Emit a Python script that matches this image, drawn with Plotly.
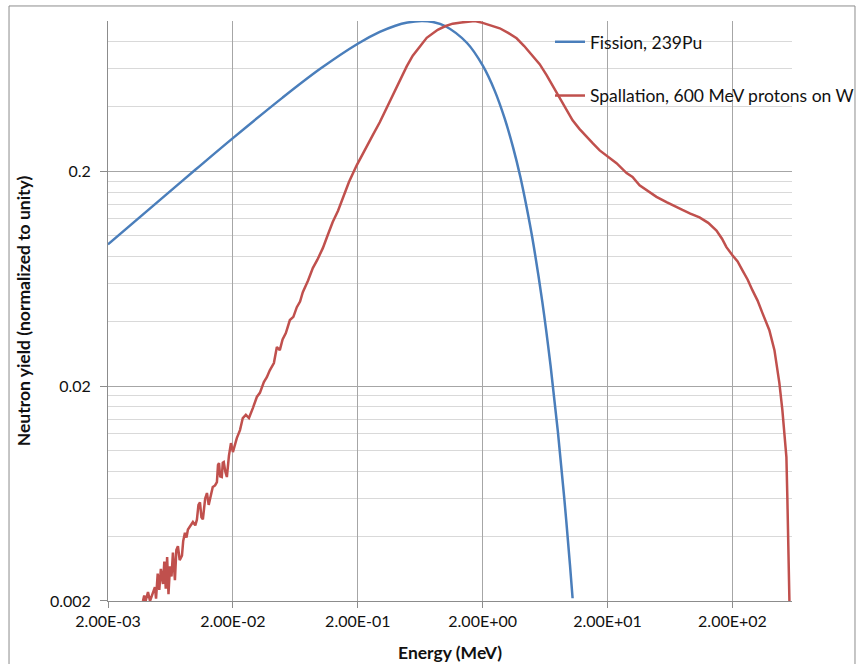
import plotly.graph_objects as go

# Fission spectrum, 239Pu (energy in MeV, yield normalized to peak)
fission_energy = [0.002, 0.005, 0.01, 0.02, 0.05, 0.1, 0.2, 0.3, 0.4, 0.5, 0.65, 0.8, 1.0,
                  1.5, 2.0, 2.5, 3.0, 3.5, 4.0, 4.5, 5.0, 6.0, 7.0, 8.0, 9.0, 10.0, 10.5]
fission_yield = [0.0913, 0.144, 0.203, 0.285, 0.440, 0.599, 0.784, 0.889, 0.951, 0.984, 1.0, 0.989, 0.948,
                 0.790, 0.621, 0.473, 0.352, 0.259, 0.189, 0.136, 0.0977, 0.0496, 0.0248, 0.0123,
                 0.00604, 0.00295, 0.00206]

# Spallation spectrum, 600 MeV protons on W
spall_energy = [0.00381, 0.00390, 0.00400, 0.00418, 0.00434, 0.00455, 0.00475, 0.00485, 0.00500, 0.00515,
                0.00530, 0.00551, 0.00565, 0.00580, 0.00595, 0.00610, 0.00627, 0.00645, 0.00662, 0.00687,
                0.00705, 0.00726, 0.00750, 0.00782, 0.00800, 0.00826, 0.00850, 0.00873, 0.00906, 0.00957,
                0.0100, 0.0103, 0.0106, 0.0109, 0.0112, 0.0115, 0.0120, 0.0124, 0.0128, 0.0131,
                0.0138, 0.0144, 0.0149, 0.0152, 0.0155, 0.0158, 0.0163, 0.0166, 0.0169, 0.0174,
                0.0179, 0.0186, 0.0193, 0.0200, 0.0208, 0.0215, 0.0228, 0.0240, 0.0254, 0.0269,
                0.0289, 0.0311, 0.0329, 0.0354, 0.0374, 0.0395, 0.0426, 0.0450, 0.0475, 0.0500,
                0.0531, 0.0572, 0.0610, 0.0650, 0.0690, 0.0726, 0.0800, 0.0873, 0.0950, 0.105,
                0.115, 0.126, 0.139, 0.152, 0.170, 0.196, 0.215, 0.236, 0.265, 0.300,
                0.340, 0.381, 0.434, 0.493, 0.551, 0.593, 0.650, 0.713, 0.790, 0.873,
                1.00, 1.15, 1.35, 1.57, 1.73, 2.00, 2.35, 2.74, 3.20, 3.74,
                4.30, 5.02, 5.72, 6.50, 7.20, 7.82, 8.60, 9.40, 10.5, 11.9,
                13.5, 15.2, 17.3, 20.0, 23.6, 28.4, 31.7, 36.1, 43.4, 49.3,
                59.3, 69.0, 79.6, 92.0, 109, 128, 149, 165, 179, 200,
                220, 240, 265, 289, 318, 348, 375, 395, 434, 455,
                475, 502, 521, 541, 551, 561, 572]
spall_yield = [0.00200, 0.00212, 0.00200, 0.00220, 0.00200, 0.00215, 0.00232, 0.00205, 0.00268, 0.00225,
               0.00282, 0.00240, 0.00305, 0.00228, 0.00320, 0.00215, 0.00290, 0.00260, 0.00336, 0.00250,
               0.00345, 0.00360, 0.00310, 0.00325, 0.00380, 0.00415, 0.00395, 0.00430, 0.00442, 0.00466,
               0.00450, 0.00478, 0.00560, 0.00575, 0.00490, 0.00480, 0.00600, 0.00636, 0.00560, 0.00595,
               0.00678, 0.00690, 0.00715, 0.00860, 0.00877, 0.00760, 0.00755, 0.00880, 0.00886, 0.00800,
               0.00755, 0.00950, 0.01086, 0.00986, 0.01090, 0.01145, 0.01248, 0.0142, 0.0147, 0.0142,
               0.0158, 0.0178, 0.0186, 0.0209, 0.0220, 0.0237, 0.0256, 0.0304, 0.0294, 0.0330,
               0.0353, 0.0406, 0.0420, 0.0466, 0.0495, 0.0547, 0.0620, 0.0708, 0.0775, 0.0877,
               0.1010, 0.116, 0.131, 0.151, 0.178, 0.213, 0.236, 0.264, 0.296, 0.338,
               0.392, 0.455, 0.530, 0.615, 0.690, 0.725, 0.780, 0.835, 0.875, 0.910,
               0.945, 0.972, 0.985, 0.993, 1.000, 0.980, 0.955, 0.925, 0.880, 0.831,
               0.765, 0.693, 0.630, 0.560, 0.505, 0.465, 0.420, 0.384, 0.345, 0.315,
               0.290, 0.270, 0.250, 0.235, 0.218, 0.196, 0.188, 0.172, 0.160, 0.152,
               0.1435, 0.137, 0.132, 0.127, 0.122, 0.115, 0.106, 0.097, 0.0886, 0.0813,
               0.0760, 0.0693, 0.0625, 0.0559, 0.0500, 0.0437, 0.0395, 0.0364, 0.0294, 0.0250,
               0.0207, 0.0155, 0.0121, 0.00935, 0.0059, 0.00345, 0.00200]

x_ticks = [0.002, 0.02, 0.2, 2, 20, 200]
x_ticktext = ["2.00E-03", "2.00E-02", "2.00E-01", "2.00E+00", "2.00E+01", "2.00E+02"]
y_ticks = [0.002, 0.02, 0.2]
y_ticktext = ["0.002", "0.02", "0.2"]
y_minor = [a * k for a in (0.002, 0.02) for k in range(2, 10)] + [0.4, 0.6, 0.8, 1.0]

FONT = "Lato"

fig = go.Figure()
fig.add_trace(go.Scatter(x=fission_energy, y=fission_yield, mode="lines",
                         name="Fission, 239Pu", legendgroup="a",
                         line=dict(color="#4a7ebb", width=2.5, shape="spline")))
fig.add_trace(go.Scatter(x=spall_energy, y=spall_yield, mode="lines",
                         name="Spallation, 600 MeV protons on W", legendgroup="b",
                         line=dict(color="#c0504d", width=2.5)))

# chart area border
fig.add_shape(type="rect", xref="paper", yref="paper", x0=-0.1447, x1=1.0921, y0=-0.2, y1=1.0259,
              line=dict(color="#8c8c8c", width=1), layer="below")

fig.update_layout(
    width=857, height=664,
    margin=dict(l=108, r=65, t=21, b=63, autoexpand=False),
    paper_bgcolor="white", plot_bgcolor="white",
    font=dict(family=FONT, size=16, color="#111"),
    legend=dict(x=0.6462, y=0.995, xanchor="left", yanchor="top", bgcolor="rgba(0,0,0,0)",
                tracegroupgap=28, itemwidth=30, font=dict(family=FONT, size=17.5, color="#111")),
    xaxis=dict(type="log", range=[-2.699, 2.778], tickvals=x_ticks, ticktext=x_ticktext,
               showgrid=True, gridcolor="#a6a6a6", gridwidth=1, zeroline=False, automargin=False,
               showline=True, linecolor="#8c8c8c", ticks="outside", ticklen=6, tickcolor="#8c8c8c",
               title=dict(text="<b>Energy (MeV)</b>", font=dict(family=FONT, size=17.5), standoff=17),
               tickfont=dict(family=FONT, size=16)),
    yaxis=dict(type="log", range=[-2.699, 0], tickvals=y_ticks, ticktext=y_ticktext,
               showgrid=True, gridcolor="#a6a6a6", gridwidth=1, zeroline=False, automargin=False,
               showline=True, linecolor="#8c8c8c", ticks="outside", ticklen=7, tickcolor="#8c8c8c",
               ticklabelstandoff=6,
               minor=dict(tickvals=y_minor, showgrid=True, gridcolor="#d9d9d9", gridwidth=1, ticks=""),
               title=dict(text="<b>Neutron yield (normalized to unity)</b>", font=dict(family=FONT, size=17.5),
                          standoff=14),
               tickfont=dict(family=FONT, size=16)),
)

# the page is shot at 857x664, so drop the default 8px body margin
fig.write_html("out.html", config={"displayModeBar": False},
               post_script="document.body.style.margin = '0px';")
